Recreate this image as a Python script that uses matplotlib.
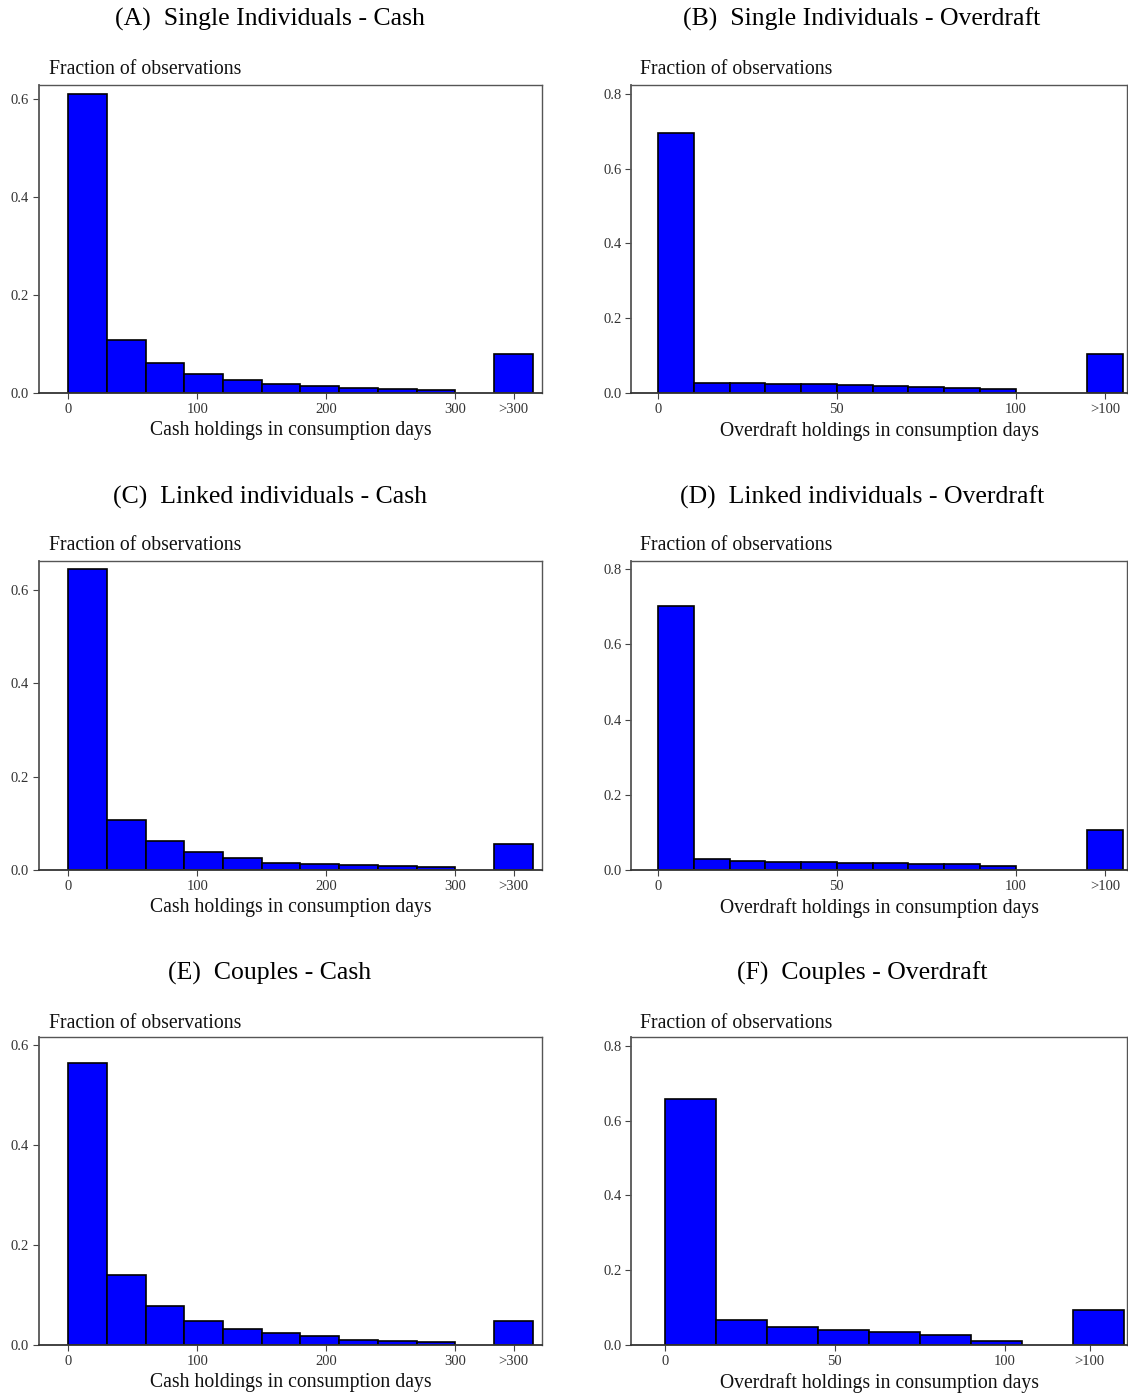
import matplotlib
matplotlib.use("Agg")
import matplotlib.pyplot as plt
import numpy as np

plt.rcParams['font.family'] = ['Liberation Serif', 'DejaVu Serif']

# ---- data ----
titles = ["(A)  Single Individuals - Cash", "(B)  Single Individuals - Overdraft",
          "(C)  Linked individuals - Cash", "(D)  Linked individuals - Overdraft",
          "(E)  Couples - Cash", "(F)  Couples - Overdraft"]

cash_edges = [0, 30, 60, 90, 120, 150, 180, 210, 240, 270, 300]
cash_top_bin = [330, 360]
cash_top_label = 345

od_edges = [0, 10, 20, 30, 40, 50, 60, 70, 80, 90, 100]
od_top_bin = [120, 130]
od_top_label = 125

odF_edges = [0, 15, 30, 45, 60, 75, 90, 105]
odF_top_bin = [120, 135]
odF_top_label = 125

cash_single = [0.609, 0.108, 0.062, 0.039, 0.026, 0.019, 0.0136, 0.011, 0.009, 0.007]
cash_single_top = 0.079
od_single = [0.695, 0.028, 0.026, 0.023, 0.023, 0.021, 0.019, 0.016, 0.013, 0.012]
od_single_top = 0.104

cash_linked = [0.644, 0.108, 0.061, 0.038, 0.026, 0.016, 0.013, 0.011, 0.0086, 0.006]
cash_linked_top = 0.056
od_linked = [0.702, 0.028, 0.023, 0.020, 0.020, 0.019, 0.019, 0.017, 0.016, 0.011]
od_linked_top = 0.106

cash_couples = [0.565, 0.141, 0.078, 0.048, 0.032, 0.024, 0.018, 0.011, 0.008, 0.007]
cash_couples_top = 0.048
od_couples = [0.659, 0.068, 0.048, 0.041, 0.034, 0.026, 0.012]
od_couples_top = 0.094

cash_xticks = [0, 100, 200, 300]
od_xticks = [0, 50, 100]
cash_yticks = [0.0, 0.2, 0.4, 0.6]
od_yticks = [0.0, 0.2, 0.4, 0.6, 0.8]

cash_xlabel = "Cash holdings in consumption days"
od_xlabel = "Overdraft holdings in consumption days"
ylab = "Fraction of observations"

panels = [
    dict(edges=cash_edges, vals=cash_single, top=cash_single_top, tbin=cash_top_bin, tlab=cash_top_label,
         toplabel=">300", xticks=cash_xticks, yticks=cash_yticks, xlim=(-22.7, 367), ylim=(0, 0.628), xlabel=cash_xlabel),
    dict(edges=od_edges, vals=od_single, top=od_single_top, tbin=od_top_bin, tlab=od_top_label,
         toplabel=">100", xticks=od_xticks, yticks=od_yticks, xlim=(-7.6, 131.2), ylim=(0, 0.824), xlabel=od_xlabel),
    dict(edges=cash_edges, vals=cash_linked, top=cash_linked_top, tbin=cash_top_bin, tlab=cash_top_label,
         toplabel=">300", xticks=cash_xticks, yticks=cash_yticks, xlim=(-22.7, 367), ylim=(0, 0.661), xlabel=cash_xlabel),
    dict(edges=od_edges, vals=od_linked, top=od_linked_top, tbin=od_top_bin, tlab=od_top_label,
         toplabel=">100", xticks=od_xticks, yticks=od_yticks, xlim=(-7.6, 131.2), ylim=(0, 0.822), xlabel=od_xlabel),
    dict(edges=cash_edges, vals=cash_couples, top=cash_couples_top, tbin=cash_top_bin, tlab=cash_top_label,
         toplabel=">300", xticks=cash_xticks, yticks=cash_yticks, xlim=(-22.7, 367), ylim=(0, 0.617), xlabel=cash_xlabel),
    dict(edges=odF_edges, vals=od_couples, top=od_couples_top, tbin=odF_top_bin, tlab=odF_top_label,
         toplabel=">100", xticks=od_xticks, yticks=od_yticks, xlim=(-10, 136), ylim=(0, 0.824), xlabel=od_xlabel),
]

W, H = 1128, 1393
fig = plt.figure(figsize=(W / 100, H / 100), dpi=100)

col_left = [38.7, 631]
col_right = [542, 1127]
row_top = [85, 561, 1037]
row_bot = [393, 870, 1345]
title_x = [270, 862]
title_y = [19, 497, 973]
frac_x = [49, 640]
frac_y = [70, 546, 1024]

bar_color = "#0000FF"
for i, p in enumerate(panels):
    r, c = divmod(i, 2)
    l, rr = col_left[c], col_right[c]
    t, b = row_top[r], row_bot[r]
    ax = fig.add_axes([l / W, 1 - b / H, (rr - l) / W, (b - t) / H])
    edges = np.array(p["edges"])
    ax.bar(edges[:-1], p["vals"], width=np.diff(edges), align="edge",
           color=bar_color, edgecolor="black", linewidth=1.2)
    ax.bar(p["tbin"][0], p["top"], width=p["tbin"][1] - p["tbin"][0], align="edge",
           color=bar_color, edgecolor="black", linewidth=1.2)
    ax.set_xlim(*p["xlim"])
    ax.set_ylim(*p["ylim"])
    ax.set_xticks(p["xticks"] + [p["tlab"]])
    ax.set_xticklabels([str(v) for v in p["xticks"]] + [p["toplabel"]], fontsize=10.5, color="#333333")
    ax.set_yticks(p["yticks"])
    ax.set_yticklabels([f"{v:.1f}" for v in p["yticks"]], fontsize=10.5, color="#333333")
    ax.tick_params(direction="out", length=4, width=0.8, color="#444444", pad=3)
    ax.spines["left"].set_color("#555555")
    ax.spines["left"].set_linewidth(1.3)
    ax.spines["bottom"].set_color("#333333")
    ax.spines["bottom"].set_linewidth(1.3)
    for s in ["top", "right"]:
        ax.spines[s].set_color("#555555")
        ax.spines[s].set_linewidth(1.0)
    ax.set_xlabel(p["xlabel"], fontsize=14.2, labelpad=4, color="#111111")
    fig.text(title_x[c] / W, 1 - title_y[r] / H, titles[i], ha="center", va="center", fontsize=18.5)
    fig.text(frac_x[c] / W, 1 - frac_y[r] / H, ylab, ha="left", va="center", fontsize=14.2, color="#111111")

fig.savefig("out.png", dpi=100)
